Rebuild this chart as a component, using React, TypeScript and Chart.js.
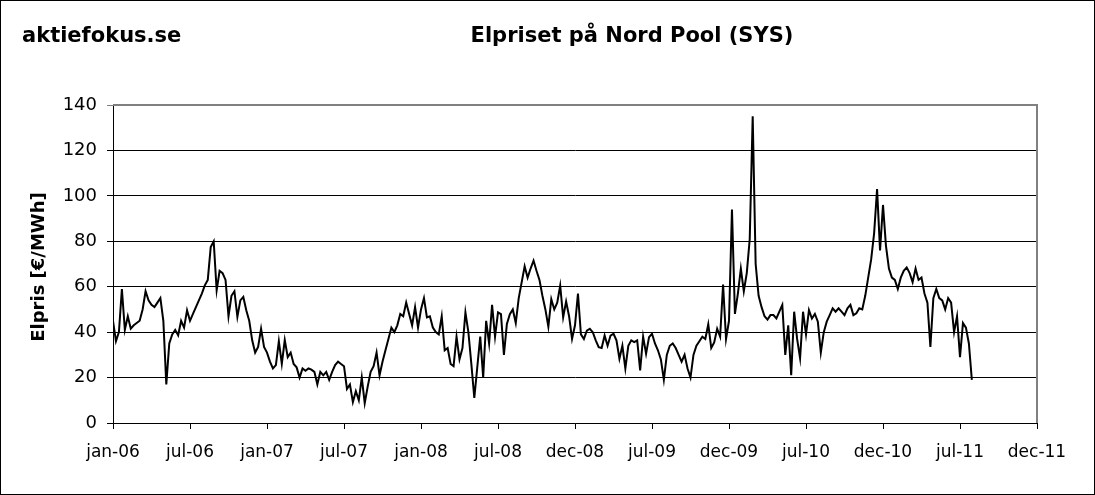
import React, { useEffect, useRef } from 'react';
import { Chart, registerables } from 'chart.js';

Chart.register(...registerables);

const siteName = 'aktiefokus.se';
const chartTitle = 'Elpriset på Nord Pool (SYS)';
const yAxisTitle = 'Elpris [€/MWh]';

const tickLabels = ['jan-06', 'jul-06', 'jan-07', 'jul-07', 'jan-08', 'jul-08', 'dec-08', 'jul-09', 'dec-09', 'jul-10', 'dec-10', 'jul-11', 'dec-11'];
const weeksPerTick = 26;
const yMin = 0;
const yMax = 140;
const yStep = 20;

// System price (EUR/MWh), roughly one reading per week
const price2006 = [45, 36, 40, 59, 41, 47, 41.5, 43, 44, 45, 50, 58, 54, 52, 51, 53, 55, 45, 17, 35, 39, 41, 38.6, 45, 42, 49.6, 45, 48, 51, 54, 57, 60.6, 63, 77.5, 80, 58.4, 67, 66, 63, 47, 56, 58, 46.7, 54, 55.5, 49.6, 45, 36.4, 31, 33.5, 41.5, 33.5];
const price2007 = [31, 27, 24, 25.5, 36, 26, 36.5, 29, 31, 26, 24.5, 20, 24, 23, 24, 23.5, 22.5, 17, 22.5, 21, 22.5, 19, 22.5, 25.5, 27, 26, 25, 15, 17, 9.2, 14, 10, 20, 8.7, 16, 22.5, 25, 31, 21, 27, 32, 37, 42, 40, 43, 48, 47, 53, 48, 43, 51, 42];
const price2008 = [50, 55, 46.5, 47, 42, 40, 39, 47, 32, 33, 26, 25, 38, 28, 33, 48.7, 40, 26, 11, 24.5, 38, 20, 45, 35, 52, 38, 48.7, 47.9, 30, 43.6, 47.9, 50, 44, 55, 62, 69, 64, 68, 71.5, 67, 63, 56, 50, 42.4, 54.5, 50, 53, 60.5, 46.5, 53.5, 47, 37];
const price2009 = [43, 57, 39, 37, 40.7, 41.5, 40, 36.4, 33.4, 33, 38.5, 34, 38.5, 39.3, 36.4, 28.3, 34, 24, 34, 36.4, 35.6, 36.4, 23.2, 38, 30.5, 37.8, 39.3, 35, 32, 28, 19, 30, 34, 35, 33, 30, 27, 30, 24, 20, 30, 34, 36, 38, 37, 43.5, 33, 35.5, 41.5, 38, 61, 37];
const price2010 = [45, 94, 48, 57, 68, 58, 66, 81, 135, 70, 56, 51, 47, 45.5, 47.5, 47.5, 46, 49, 52, 30, 43, 21, 49, 37, 28.5, 49, 39, 49.7, 46, 48, 44.6, 31, 40, 44.6, 47.5, 50.5, 49, 50.5, 49, 47.5, 50.5, 52, 47.5, 48.3, 50.5, 50, 56, 64, 72, 83.5, 103, 76];
const price2011 = [96, 78, 68, 64, 63, 59, 64, 67, 68.5, 66, 62, 68, 63, 64, 57, 53, 33.5, 55, 59, 55, 54, 50, 55, 53, 40, 47, 29, 44, 42, 35, 19];

const weeklyPrices = [...price2006, ...price2007, ...price2008, ...price2009, ...price2010, ...price2011];

const FONT = 'DejaVu Sans';
const W = 1095;
const H = 495;
const AREA = { left: 113, top: 105, right: 1037, bottom: 423 };

const decorations = {
  id: 'decorations',
  afterDraw(chart: any) {
    const ctx = chart.ctx as CanvasRenderingContext2D;
    const a = chart.chartArea;
    ctx.save();
    // plot area border (grey, top and right)
    ctx.strokeStyle = '#808080';
    ctx.lineWidth = 2;
    ctx.beginPath();
    ctx.moveTo(a.left, a.top);
    ctx.lineTo(a.right, a.top);
    ctx.lineTo(a.right, a.bottom);
    ctx.stroke();
    // outer frame
    ctx.strokeStyle = '#000';
    ctx.lineWidth = 1;
    ctx.strokeRect(0.5, 0.5, W - 1, H - 1);
    // titles
    ctx.fillStyle = '#000';
    ctx.textBaseline = 'middle';
    ctx.font = `bold 21px "${FONT}"`;
    ctx.textAlign = 'left';
    ctx.fillText(siteName, 22, 37);
    ctx.textAlign = 'center';
    ctx.fillText(chartTitle, 632, 37);
    // y axis title
    ctx.font = `bold 18px "${FONT}"`;
    ctx.translate(39, 267);
    ctx.rotate(-Math.PI / 2);
    ctx.textAlign = 'center';
    ctx.fillText(yAxisTitle, 0, 0);
    ctx.restore();
  },
};

export default function App() {
  const ref = useRef<HTMLCanvasElement>(null);
  useEffect(() => {
    document.body.style.margin = '0';
    const canvas = ref.current;
    if (!canvas) return;
    const points = weeklyPrices.map((y, i) => ({ x: i, y }));
    const chart = new Chart(canvas, {
      type: 'line',
      data: {
        datasets: [
          {
            data: points,
            borderColor: '#000',
            borderWidth: 2,
            pointRadius: 0,
            tension: 0,
            fill: false,
          },
        ],
      },
      options: {
        responsive: false,
        animation: false,
        devicePixelRatio: 1,
        parsing: false as any,
        layout: { padding: { top: AREA.top, right: W - AREA.right, left: 0, bottom: 0 } },
        plugins: { legend: { display: false }, tooltip: { enabled: false }, title: { display: false } },
        scales: {
          x: {
            type: 'linear',
            min: 0,
            max: weeksPerTick * (tickLabels.length - 1),
            afterFit: (s: any) => {
              s.height = H - AREA.bottom;
            },
            ticks: {
              stepSize: weeksPerTick,
              autoSkip: false,
              maxRotation: 0,
              minRotation: 0,
              color: '#000',
              padding: 13,
              font: { family: FONT, size: 17 },
              callback: (v: any) => tickLabels[Math.round(Number(v) / weeksPerTick)] ?? '',
            },
            grid: { drawOnChartArea: false, drawTicks: true, tickLength: 6, color: '#000' },
            border: { display: true, color: '#000', width: 1 },
          },
          y: {
            min: yMin,
            max: yMax,
            afterFit: (s: any) => {
              s.width = AREA.left;
            },
            ticks: {
              stepSize: yStep,
              color: '#000',
              padding: 10,
              font: { family: FONT, size: 18 },
            },
            grid: {
              color: (c: any) => (c.tick && c.tick.value === yMax ? '#808080' : '#000'),
              tickLength: 6,
              lineWidth: 1,
            },
            border: { display: true, color: '#000', width: 1 },
          },
        },
      },
      plugins: [decorations],
    });
    return () => chart.destroy();
  }, []);
  return (
    <canvas
      ref={ref}
      width={W}
      height={H}
      style={{ display: 'block', width: `${W}px`, height: `${H}px` }}
    />
  );
}
